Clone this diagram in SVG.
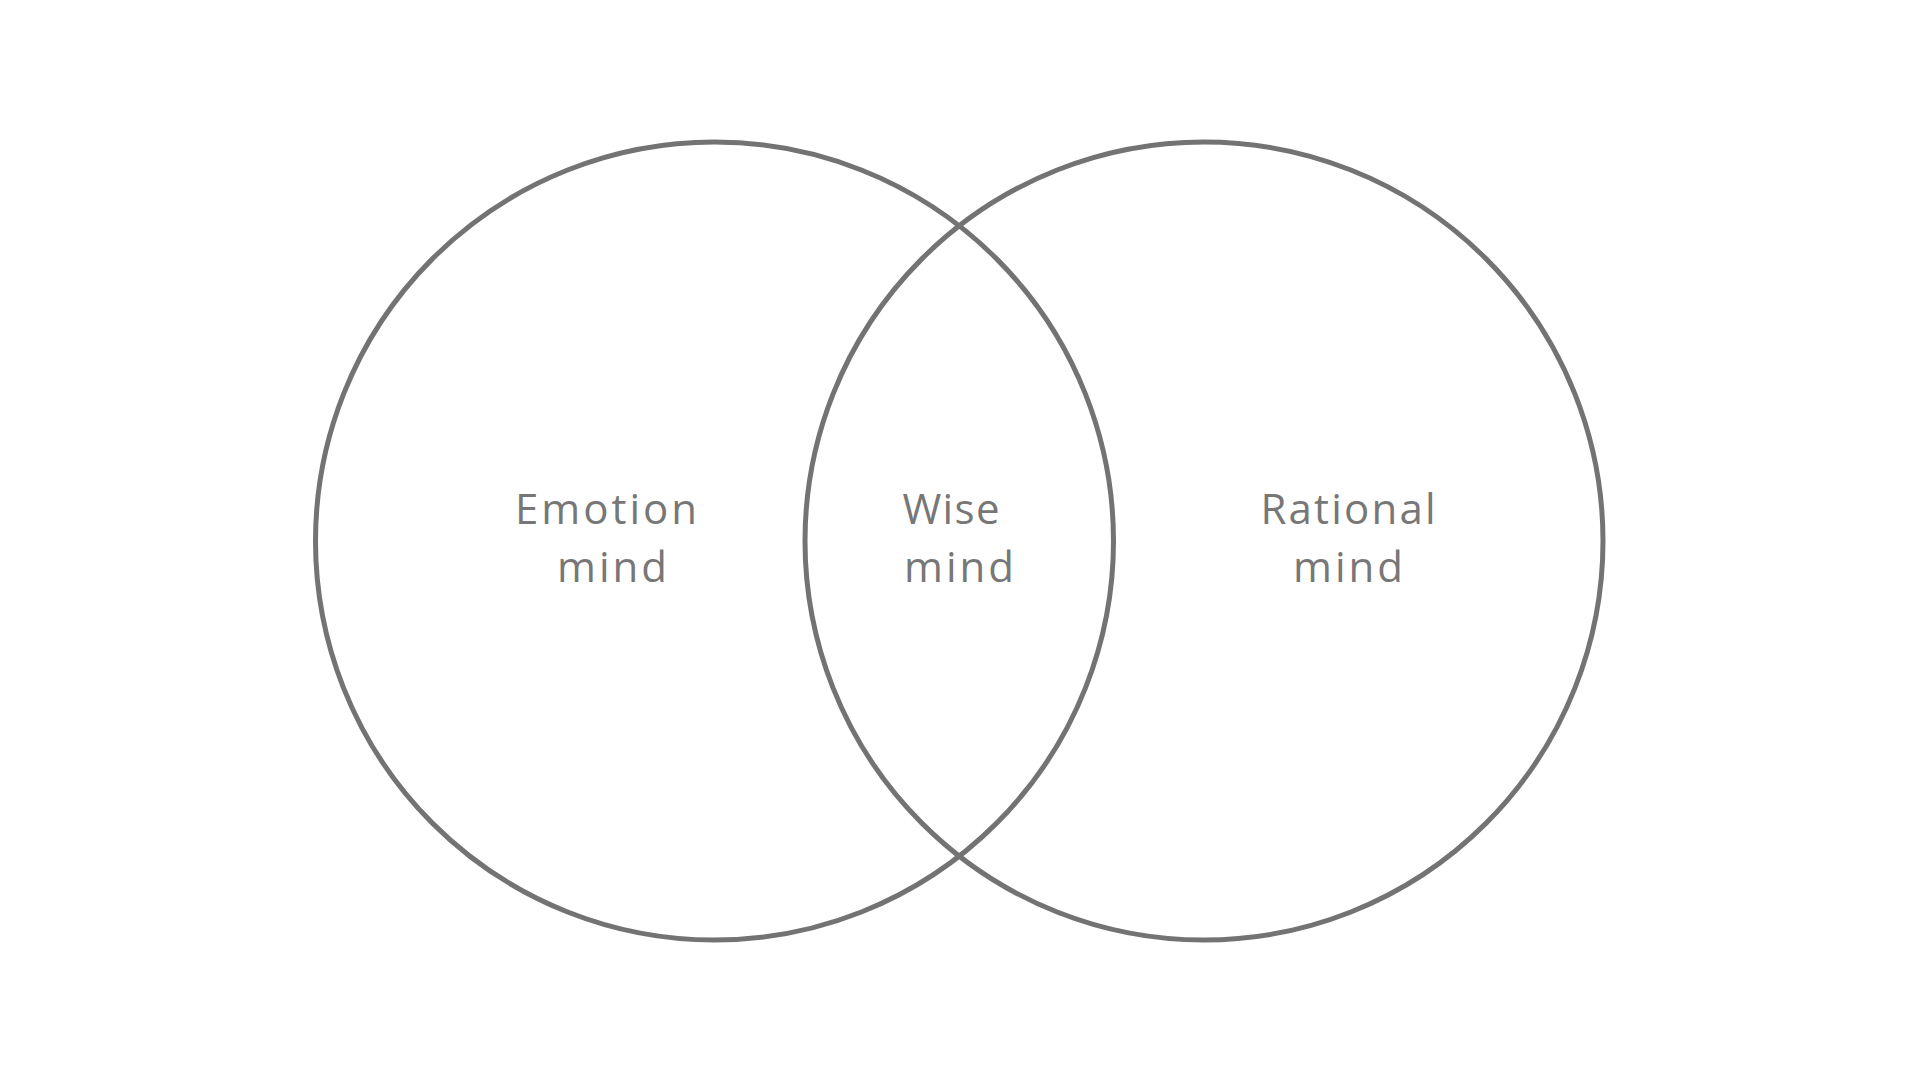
<svg xmlns="http://www.w3.org/2000/svg" width="1920" height="1080" viewBox="0 0 1920 1080">
<style>
.c{fill:none;stroke:#737373;stroke-width:5}
.t{font-family:"Open Sans","Liberation Sans",sans-serif;font-size:42px;fill:#777777;text-anchor:middle}
</style>
<rect width="1920" height="1080" fill="#ffffff"/>
<g id="emotion">
<circle class="c" cx="714.5" cy="541" r="399"/>
<text class="t" x="606" y="524" textLength="182" lengthAdjust="spacing">Emotion</text>
<text class="t" x="612" y="582" textLength="110" lengthAdjust="spacing">mind</text>
</g>
<g id="rational">
<circle class="c" cx="1204" cy="541" r="399"/>
<text class="t" x="1348" y="524" textLength="175" lengthAdjust="spacing">Rational</text>
<text class="t" x="1348" y="582" textLength="110" lengthAdjust="spacing">mind</text>
</g>
<g id="wise">
<text class="t" x="951" y="524" textLength="97" lengthAdjust="spacing">Wise</text>
<text class="t" x="959" y="582" textLength="110" lengthAdjust="spacing">mind</text>
</g>
<g id="connectors"/>
</svg>
